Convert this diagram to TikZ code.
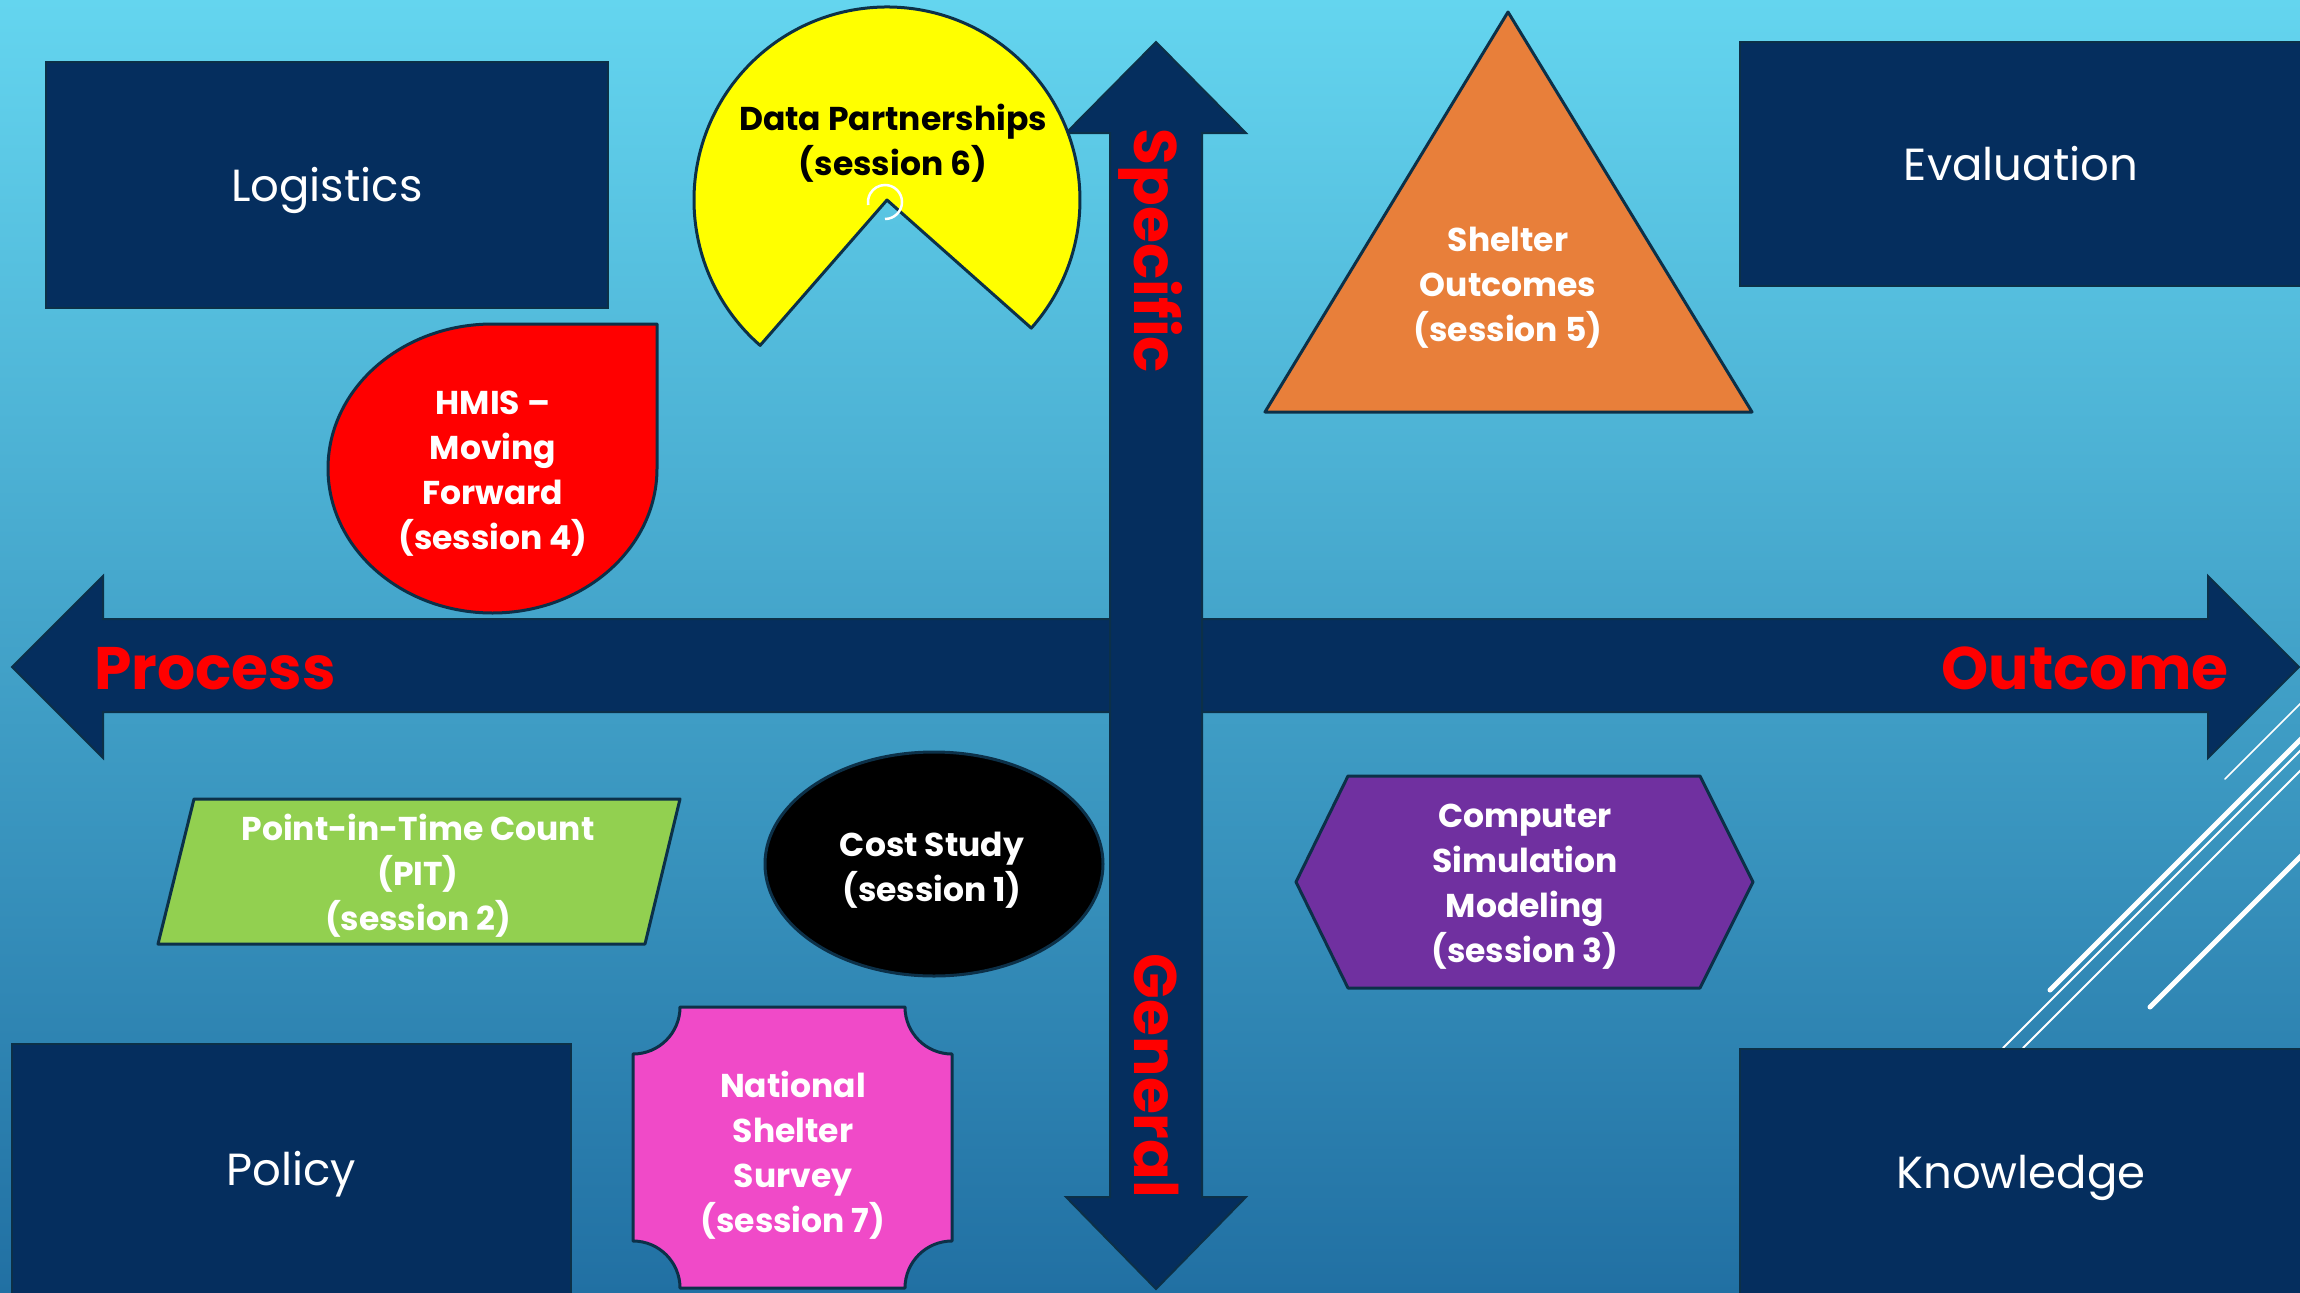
\documentclass[tikz,border=0pt]{standalone}
\usepackage{fontspec}
\setmainfont{Poppins}
\definecolor{navy}{HTML}{052E5E}
\definecolor{edgeline}{HTML}{0C3048}
\definecolor{bgtop}{HTML}{64D5EF}
\definecolor{bgmid}{HTML}{3EA2CA}
\definecolor{bgbot}{HTML}{2170A3}
\definecolor{pacy}{HTML}{FFFF00}
\definecolor{dropred}{HTML}{FF0000}
\definecolor{triorange}{HTML}{E87F3A}
\definecolor{pitgreen}{HTML}{92D050}
\definecolor{hexpurple}{HTML}{7030A0}
\definecolor{plaquepink}{HTML}{F04AC8}
\tikzset{
  shapeline/.style={draw=edgeline, line width=3pt, line join=round},
  arrowshape/.style={draw=edgeline, line width=2pt, fill=navy, line join=miter},
  boxstyle/.style={draw=edgeline, line width=2pt, fill=navy, inner sep=0pt,
    text=white, font=\fontsize{45}{52}\selectfont, text height=32pt, text depth=0pt},
  shapetext/.style={text=white, font=\fontsize{33}{45}\selectfont\bfseries, align=center, inner sep=0pt},
  axistext/.style={text=red, font=\fontsize{60}{66}\selectfont\bfseries, inner sep=0pt},
  deco/.style={draw=white, line cap=round},
}
\begin{document}
\begin{tikzpicture}[x=1pt, y=-1pt]
\useasboundingbox (0,0) rectangle (2300,1293);
% background
\shade[top color=bgtop, middle color=bgmid, bottom color=bgbot] (0,0) rectangle (2300,1293);
% decorative diagonal lines
\draw[deco, line width=1.6pt] (2225,779) -- (2302,702);
\draw[deco, line width=5pt] (2050,990) -- (2302,738);
\draw[deco, line width=2pt] (2003,1048) -- (2302,749);
\draw[deco, line width=2pt] (2023,1048) -- (2302,769);
\draw[deco, line width=5pt] (2150,1007) -- (2302,855);
% corner boxes
\node[boxstyle, minimum width=562pt, minimum height=246pt] (logistics) at (327,185) {Logistics};
\node[boxstyle, minimum width=562pt, minimum height=244pt] (evaluation) at (2021,164) {Evaluation};
\node[boxstyle, minimum width=559pt, minimum height=250pt] (policy) at (291,1169) {Policy};
\node[boxstyle, minimum width=562pt, minimum height=246pt] (knowledge) at (2021,1172) {Knowledge};
% horizontal double arrow
\draw[arrowshape] (12,667) -- (103,576) -- (103,619) -- (2208,619) -- (2208,576) -- (2299,667)
  -- (2208,758) -- (2208,712) -- (103,712) -- (103,758) -- cycle;
% vertical double arrow
\draw[arrowshape] (1156,42) -- (1246,133) -- (1202,133) -- (1202,1197) -- (1246,1197) -- (1156,1289)
  -- (1066,1197) -- (1110,1197) -- (1110,133) -- (1066,133) -- cycle;
\node[axistext, anchor=base] (process) at (215,689) {Process};
\node[axistext, anchor=base] (outcome) at (2085,689) {Outcome};
\node[axistext, anchor=base, rotate=-90] (specific) at (1134,251) {Specific};
\node[axistext, anchor=base, rotate=-90] (general) at (1134,1076) {General};
% pacman: Data Partnerships
\draw[shapeline, fill=pacy] (887,200) -- (1031.3,328.1) arc[start angle=41.6, end angle=-228.9, radius=193] -- cycle;
\draw[white, line width=2.5pt] (885,219) arc[start angle=90, end angle=-190, radius=17];
\node[shapetext, text=black] (datapart) at (893,143) {Data Partnerships\\(session 6)};
% teardrop: HMIS
\draw[shapeline, fill=dropred] (657,324) -- (657,468.5) arc[start angle=0, end angle=270, x radius=164.5, y radius=144.5] -- cycle;
\node[shapetext] (hmis) at (493,474) {HMIS –\\Moving\\Forward\\(session 4)};
% triangle: Shelter Outcomes
\draw[shapeline, fill=triorange] (1508,12) -- (1752,412) -- (1265,412) -- cycle;
\node[shapetext] (shelterout) at (1508,288) {Shelter\\Outcomes\\(session 5)};
% parallelogram: PIT
\draw[shapeline, fill=pitgreen] (194,799) -- (680,799) -- (645,944) -- (158,944) -- cycle;
\node[shapetext] (pit) at (418,876) {Point-in-Time Count\\(PIT)\\(session 2)};
% ellipse: Cost Study
\draw[shapeline, fill=black] (934,864) ellipse [x radius=169, y radius=112];
\node[shapetext] (cost) at (932,870) {Cost Study\\(session 1)};
% hexagon: Computer Simulation Modeling
\draw[shapeline, fill=hexpurple] (1296,882) -- (1348,776) -- (1700,776) -- (1753,882) -- (1700,988) -- (1348,988) -- cycle;
\node[shapetext] (csm) at (1525,887) {Computer\\Simulation\\Modeling\\(session 3)};
% plaque: National Shelter Survey
\draw[shapeline, fill=plaquepink] (680,1007) -- (905,1007) arc[start angle=180, end angle=90, radius=47]
  -- (952,1241) arc[start angle=270, end angle=180, radius=47]
  -- (680,1288) arc[start angle=0, end angle=-90, radius=47]
  -- (633,1054) arc[start angle=90, end angle=0, radius=47] -- cycle;
\node[shapetext] (nss) at (793,1155) {National\\Shelter\\Survey\\(session 7)};
\end{tikzpicture}
\end{document}
